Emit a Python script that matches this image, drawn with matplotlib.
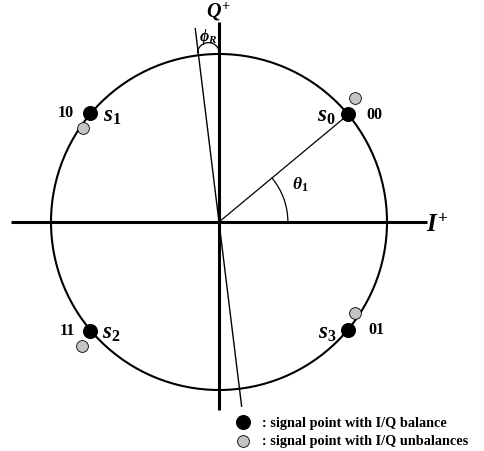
import numpy as np
import matplotlib
matplotlib.use("Agg")
import matplotlib.pyplot as plt
from matplotlib.patches import Circle, Arc

plt.rcParams['font.family'] = ['Liberation Serif', 'DejaVu Serif']
plt.rcParams['font.weight'] = 'bold'
plt.rcParams['mathtext.fontset'] = 'custom'
plt.rcParams['mathtext.rm'] = 'Liberation Serif:bold'
plt.rcParams['mathtext.it'] = 'Liberation Serif:italic:bold'
plt.rcParams['mathtext.bf'] = 'Liberation Serif:bold'

# ---- data ----
symbols = ['s0', 's1', 's2', 's3']
bits = ['00', '10', '11', '01']
bal_I = [0.77, -0.77, -0.77, 0.77]
bal_Q = [0.64, 0.65, -0.65, -0.64]
unbal_I = [0.81, -0.81, -0.815, 0.81]
unbal_Q = [0.74, 0.56, -0.74, -0.54]
theta1_deg = 40.0
phiR_deg = 7.0
legend_labels = [': signal point with I/Q balance', ': signal point with I/Q unbalances']

fig = plt.figure(figsize=(4.85, 4.52), dpi=100)
ax = fig.add_axes([0, 0, 1, 1])
ax.set_xlim(-219/168, (485-219)/168)
ax.set_ylim((223-452)/168, 223/168)
ax.axis('off')

# circle
ax.add_patch(Circle((0, 0), 1.0, fill=False, lw=1.5, color='black'))
# axes
ax.plot([-1.238, 1.238], [0, 0], color='black', lw=2.2, solid_capstyle='butt')
ax.plot([0, 0], [-1.12, 1.19], color='black', lw=2.2, solid_capstyle='butt')
# tilted Q axis
ph = np.deg2rad(phiR_deg)
ax.plot([-1.16*np.sin(ph), 1.105*np.sin(ph)], [1.16*np.cos(ph), -1.105*np.cos(ph)],
        color='black', lw=1.0)
# line to s0
ax.plot([0, bal_I[0]], [0, bal_Q[0]], color='black', lw=0.9)
# theta arc
ax.add_patch(Arc((0, 0), 2*0.41, 2*0.41, theta1=0, theta2=theta1_deg, lw=0.9, color='black'))
# phi_R arc (small hump)
ax.add_patch(Arc((-0.063, 1.005), 0.13, 0.125, theta1=0, theta2=180, lw=0.9, color='black'))

# points
ax.plot(unbal_I, unbal_Q, 'o', ms=8.5, mfc='#c4c4c4', mec='black', mew=0.6, ls='none')
ax.plot(bal_I, bal_Q, 'o', ms=9.8, mfc='black', mec='black', ls='none')

def px(x, y):
    return (x - 219)/168, (223 - y)/168

# symbol labels
sym_pos = [(326, 116), (112, 116), (111, 333), (327, 333)]
bit_pos = [(374, 115), (66, 113), (67, 331), (376, 330)]
for s, b, sp, bp in zip(symbols, bits, sym_pos, bit_pos):
    ax.text(*px(*sp), r'$%s_{%s}$' % (s[0], s[1]), fontsize=16.5, ha='center', va='center')
    ax.text(*px(*bp), b, fontsize=11.5, ha='center', va='center', fontweight='bold')

ax.text(*px(437, 226), r'$I^{+}$', fontsize=18, ha='center', va='center')
ax.text(*px(219, 12), r'$Q^{+}$', fontsize=14.5, ha='center', va='center')
ax.text(*px(300, 185), r'$\theta_{1}$', fontsize=12.5, ha='center', va='center')
ax.text(*px(208, 37), r'$\phi_{R}$', fontsize=11.5, ha='center', va='center')

# legend
ax.plot(*px(243, 423), 'o', ms=9.8, mfc='black', mec='black')
ax.plot(*px(243, 442), 'o', ms=8.5, mfc='#c4c4c4', mec='black', mew=0.6)
ax.text(*px(262, 423), legend_labels[0], fontsize=10.3, ha='left', va='center', fontweight='bold')
ax.text(*px(262, 442), legend_labels[1], fontsize=10.3, ha='left', va='center', fontweight='bold')

fig.savefig('out.png', dpi=100)
